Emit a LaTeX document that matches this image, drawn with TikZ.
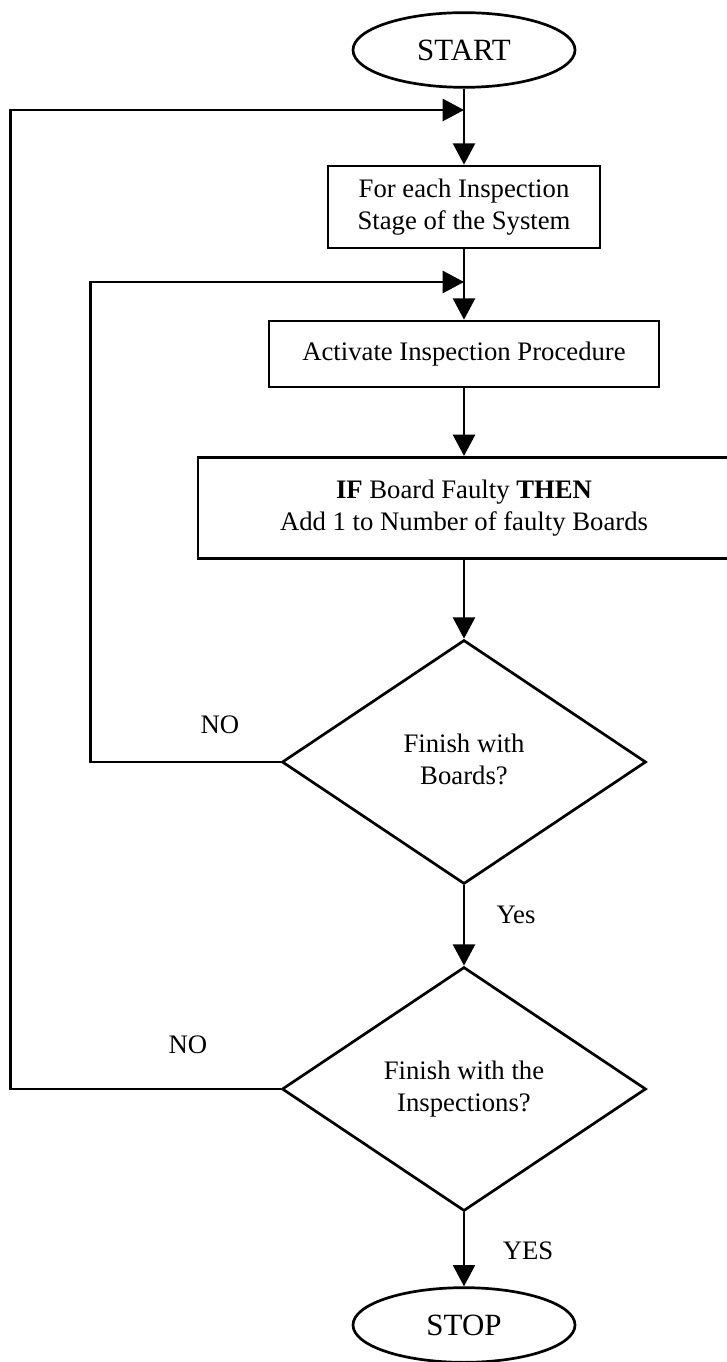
\documentclass[tikz,border=0pt]{standalone}
\usepackage{fontspec}
\setmainfont{Liberation Serif}
\usetikzlibrary{arrows.meta, positioning, shapes.geometric}

\newcommand{\lowtext}[1]{\raisebox{-1.4mm}{\begin{tabular}{@{}c@{}}#1\end{tabular}}}

\begin{document}
\begin{tikzpicture}[x=0.15mm, y=-0.15mm, line width=1.15pt,
    font=\fontsize{11.4}{13.6}\selectfont,
    arr/.style={-{Triangle[length=3.2mm, width=3.3mm]}},
    term/.style={draw, ellipse, inner sep=0pt, minimum width=33.3mm, minimum height=11.2mm, font=\fontsize{13.2}{15}\selectfont},
    proc/.style={draw, rectangle, align=center, inner sep=0pt},
    dec/.style={draw, diamond, align=center, inner sep=0pt, minimum width=54.6mm, minimum height=36.6mm}]
      \useasboundingbox (0,0) rectangle (727,1362);

      % Main column
      \node[term] (start) at (464,50) {START};
      \node[proc, minimum width=40.8mm, minimum height=12.3mm] (stage) at (464,207) {For each Inspection\\Stage of the System};
      \node[proc, minimum width=58.5mm, minimum height=9.9mm] (activate) at (464,354) {Activate Inspection Procedure};
      \node[proc, minimum width=79.8mm, minimum height=15.2mm] (faulty) at (464,508) {\textbf{IF} Board Faulty \textbf{THEN}\\Add 1 to Number of faulty Boards};
      \node[dec] (boards) at (464,762) {\lowtext{Finish with\\Boards?}};
      \node[dec] (insp) at (464,1089) {\lowtext{Finish with the\\Inspections?}};
      \node[term] (stop) at (464,1325) {STOP};

      \coordinate (j1) at (464,110);
      \coordinate (j2) at (464,282);

      \draw[arr] (start) -- (stage);
      \draw[arr] (stage) -- (activate);
      \draw[arr] (activate) -- (faulty);
      \draw[arr] (faulty) -- (boards);
      \draw[arr] (boards) -- (insp);
      \draw[arr] (insp) -- (stop);

      % Loops back
      \draw[arr] (boards.west) -- ++(-190,0) |- (j2);
      \draw[arr] (insp.west) -- ++(-270,0) |- (j1);

      \node (no1) at (220,725) {NO};
      \node (no2) at (188,1045) {NO};
      \node (yes1) at (516,915) {Yes};
      \node (yes2) at (528,1251) {YES};
    \end{tikzpicture}
\end{document}
